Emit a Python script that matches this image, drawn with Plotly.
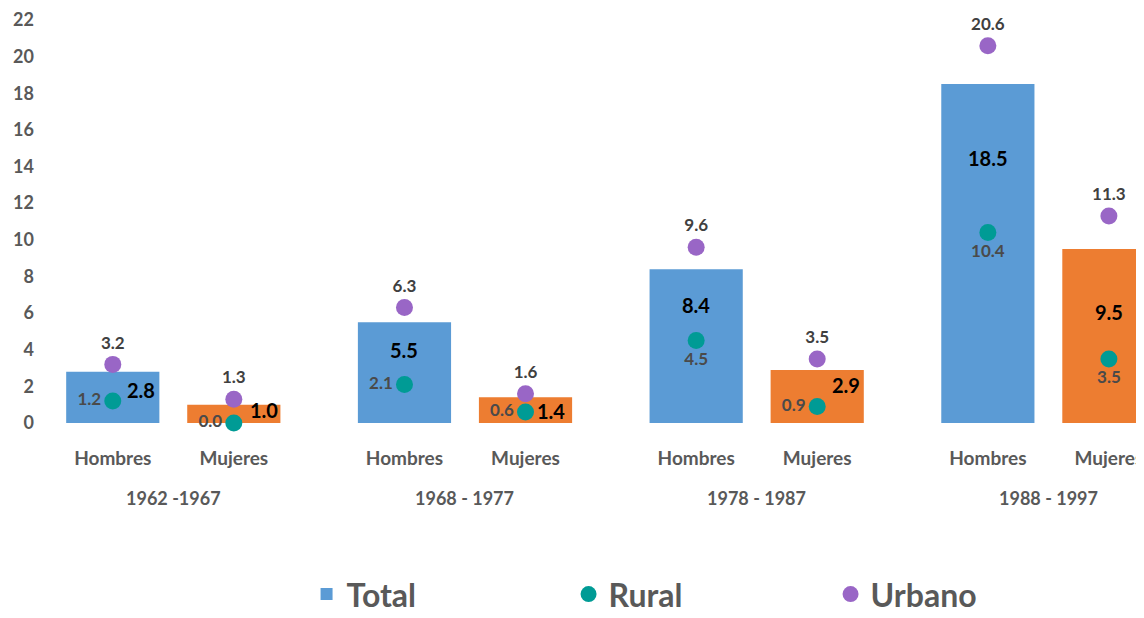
import plotly.graph_objects as go

# ---------------- data ----------------
periods = ["1962 -1967", "1968 - 1977", "1978 - 1987", "1988 - 1997"]
sexes = ["Hombres", "Mujeres"]
total_h = [2.8, 5.5, 8.4, 18.5]
total_m = [1.0, 1.4, 2.9, 9.5]
rural_h = [1.2, 2.1, 4.5, 10.4]
rural_m = [0.0, 0.6, 0.9, 3.5]
urbano_h = [3.2, 6.3, 9.6, 20.6]
urbano_m = [1.3, 1.6, 3.5, 11.3]
y_ticks = [0, 2, 4, 6, 8, 10, 12, 14, 16, 18, 20, 22]

# ---------------- layout helpers ----------------
GROUP_STEP = 2.41
BLUE, ORANGE = "#5B9BD5", "#ED7D31"
TEAL, PURPLE = "#009B95", "#9966C6"
GRAY = "#595959"
FONT = "Lato"

xs, totals, rurals, urbanos, bar_colors, ticktext = [], [], [], [], [], []
for g in range(len(periods)):
    for s, (tot, rur, urb, col) in enumerate([
        (total_h, rural_h, urbano_h, BLUE),
        (total_m, rural_m, urbano_m, ORANGE),
    ]):
        xs.append(g * GROUP_STEP + s)
        totals.append(tot[g])
        rurals.append(rur[g])
        urbanos.append(urb[g])
        bar_colors.append(col)
        ticktext.append(sexes[s])

# label placement (style only)
total_shift = [(28, -18), (30, -5), (0, -28), (25, -14),
               (0, -36), (29, -15), (0, -74), (0, -63)]
rural_pos = ["middle left", "middle left", "middle left", "middle left",
             "bottom center", "middle left", "bottom center", "bottom center"]

fig = go.Figure()
fig.add_trace(go.Bar(
    x=xs, y=totals, name="Total", width=0.77,
    marker=dict(color=bar_colors, line=dict(width=0)),
))
fig.add_trace(go.Scatter(
    x=xs, y=rurals, name="Rural", mode="markers+text",
    marker=dict(color=TEAL, size=17),
    text=[f"{v:.1f}" for v in rurals], textposition=rural_pos,
    textfont=dict(family=FONT, size=17, color="#4a4a4a", weight="bold"),
    cliponaxis=False,
))
fig.add_trace(go.Scatter(
    x=xs, y=urbanos, name="Urbano", mode="markers+text",
    marker=dict(color=PURPLE, size=17),
    text=[f"{v:.1f}" for v in urbanos], textposition="top center",
    textfont=dict(family=FONT, size=17, color="#404040", weight="bold"),
    cliponaxis=False,
))

for x, v, (dx, dy) in zip(xs, totals, total_shift):
    fig.add_annotation(x=x, y=v, text=f"<b>{v:.1f}</b>", showarrow=False,
                       xshift=dx, yshift=dy,
                       font=dict(family=FONT, size=20, color="#000000"))

for g, p in enumerate(periods):
    fig.add_annotation(x=g * GROUP_STEP + 0.5, y=-0.186, yref="paper",
                       text=f"<b>{p}</b>", showarrow=False, yanchor="middle",
                       font=dict(family=FONT, size=18, color=GRAY))

fig.update_layout(
    width=1136, height=610,
    margin=dict(l=37, r=0, t=12, b=195, autoexpand=False),
    paper_bgcolor="white", plot_bgcolor="white",
    font=dict(family=FONT, color=GRAY),
    showlegend=True,
    legend=dict(orientation="h", x=0.238, xanchor="left", y=-0.425,
                yanchor="middle", entrywidth=217, entrywidthmode="pixels",
                font=dict(family=FONT, size=32, color=GRAY, weight="bold"),
                itemsizing="trace"),
    xaxis=dict(range=[-0.56, 8.52], tickvals=xs, ticktext=ticktext,
               showgrid=False, zeroline=False, showline=False, ticks="",
               ticklabelstandoff=22, automargin=False,
               tickfont=dict(family=FONT, size=19, color=GRAY, weight="bold")),
    yaxis=dict(range=[0, 22], tickvals=y_ticks, showgrid=False,
               zeroline=False, showline=False, ticks="",
               ticklabelstandoff=10, automargin=False,
               tickfont=dict(family=FONT, size=18, color=GRAY, weight="bold")),
)

fig.write_html("out.html")
